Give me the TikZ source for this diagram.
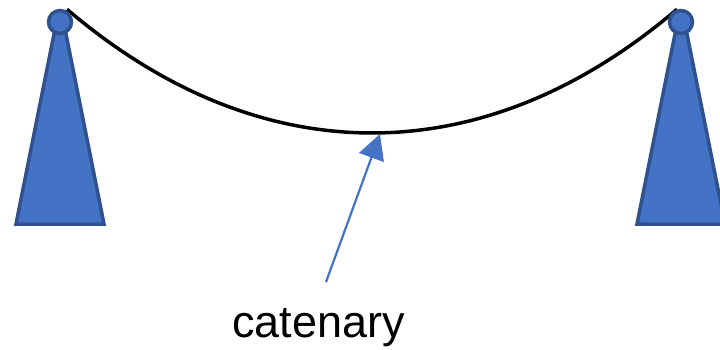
\documentclass[tikz,border=0pt]{standalone}
\usepackage{fontspec}
\setmainfont{Liberation Sans}
\usetikzlibrary{arrows.meta}
\definecolor{supfill}{HTML}{4472C4}
\definecolor{supedge}{HTML}{2F528F}
\tikzset{
  support/.style={fill=supfill, draw=supedge, line width=3.5pt, line join=miter},
  cable/.style={draw=black, line width=3.5pt},
  pointer/.style={draw=supfill, line width=2.2pt, -{Triangle[length=25pt,width=26pt]}},
}
\begin{document}
\begin{tikzpicture}[x=1pt,y=-1pt]
\useasboundingbox (0,0) rectangle (720,349);
% catenary cable
\draw[cable, smooth] plot[domain=67:677, samples=80] (\x, {133-395*(cosh((\x-372)/395)-1)});
% left support
\path[support] (16,224) -- (56.4,22) -- (63.6,22) -- (104,224) -- cycle;
\path[support] (60,22) circle (11.5);
% right support
\path[support] (637,224) -- (677.4,22) -- (684.6,22) -- (725,224) -- cycle;
\path[support] (681,22) circle (11.5);
% label and arrow
\coordinate (tail) at (326,282);
\coordinate (tip) at (380,134);
\node[font=\fontsize{45}{50}\selectfont, anchor=base, inner sep=0pt] (lbl) at (318.5,337) {catenary};
\draw[pointer] (tail) -- (tip);
\end{tikzpicture}
\end{document}
